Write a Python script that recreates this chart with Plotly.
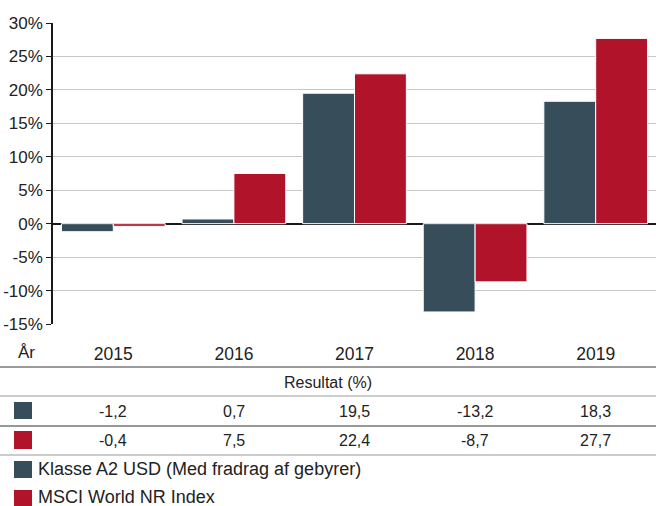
import plotly.graph_objects as go

years = ["2015", "2016", "2017", "2018", "2019"]
fund = [-1.2, 0.7, 19.5, -13.2, 18.3]
index = [-0.4, 7.5, 22.4, -8.7, 27.7]
series_names = ["Klasse A2 USD (Med fradrag af gebyrer)", "MSCI World NR Index"]
fund_labels = ["-1,2", "0,7", "19,5", "-13,2", "18,3"]
index_labels = ["-0,4", "7,5", "22,4", "-8,7", "27,7"]
y_ticks = [-15, -10, -5, 0, 5, 10, 15, 20, 25, 30]
table_title = "Resultat (%)"
x_axis_title = "År"

DARK = "#374e5a"
RED = "#b0132a"
TXT = "#222222"
FONT = "Liberation Sans, Arial, sans-serif"

W, H = 656, 506
ML, MR, MT, MB = 53, 0, 23, 182
PH = H - MT - MB
PW = W - ML - MR


def py(px):
    return (H - MB - px) / PH


def pxx(px):
    return (px - ML) / PW


fig = go.Figure()
for vals, col, name in [(fund, DARK, series_names[0]), (index, RED, series_names[1])]:
    fig.add_trace(go.Bar(x=years, y=vals, name=name, marker=dict(color=col, line=dict(color="white", width=1)),
                         showlegend=False))

shapes = []
annotations = []

# table lines
for ypx, col, w in [(367, "#7a7a7a", 1.6), (396, "#9a9a9a", 1.2), (426, "#333333", 1.2), (455, "#9a9a9a", 1.2)]:
    shapes.append(dict(type="line", xref="paper", yref="paper", x0=pxx(0), x1=pxx(W), y0=py(ypx), y1=py(ypx),
                       line=dict(color=col, width=w)))

annotations.append(dict(text=table_title, xref="paper", yref="paper", x=pxx(328), y=py(382), showarrow=False,
                        xanchor="center", yanchor="middle", font=dict(size=16, color=TXT, family=FONT)))
annotations.append(dict(text=x_axis_title, xref="paper", yref="paper", x=pxx(26), y=py(352), showarrow=False,
                        xanchor="center", yanchor="middle", font=dict(size=17, color=TXT, family=FONT)))

rows = [(fund_labels, DARK, 402, 419, 411), (index_labels, RED, 431, 449, 440)]
for labels, col, y0, y1, yc in rows:
    shapes.append(dict(type="rect", xref="paper", yref="paper", x0=pxx(14), x1=pxx(32), y0=py(y1), y1=py(y0),
                       fillcolor=col, line=dict(width=0)))
    for i, lab in enumerate(labels):
        annotations.append(dict(text=lab, xref="x", yref="paper", x=i, y=py(yc), showarrow=False,
                                xanchor="center", yanchor="middle", font=dict(size=16, color=TXT, family=FONT)))

for name, col, y0, y1, yc in [(series_names[0], DARK, 461, 478, 469), (series_names[1], RED, 490, 506, 497)]:
    shapes.append(dict(type="rect", xref="paper", yref="paper", x0=pxx(14), x1=pxx(32), y0=py(y1), y1=py(y0),
                       fillcolor=col, line=dict(width=0)))
    annotations.append(dict(text=name, xref="paper", yref="paper", x=pxx(36), y=py(yc), showarrow=False,
                            xanchor="left", yanchor="middle", font=dict(size=18, color=TXT, family=FONT)))

fig.update_layout(
    width=W, height=H,
    margin=dict(l=ML, r=MR, t=MT, b=MB),
    paper_bgcolor="white", plot_bgcolor="white",
    barmode="group", bargap=0.14, bargroupgap=0,
    font=dict(family=FONT, size=16, color=TXT),
    shapes=shapes, annotations=annotations,
    xaxis=dict(type="category", range=[-0.5, 4.5], showgrid=False, showline=False, ticks="",
               tickfont=dict(size=17.5, color=TXT), ticklabelstandoff=17),
    yaxis=dict(range=[-15, 30], tickvals=y_ticks, ticktext=[f"{v}%" for v in y_ticks],
               showgrid=True, gridcolor="#c8c8c8", gridwidth=1,
               zeroline=True, zerolinecolor="#1a1a1a", zerolinewidth=2,
               showline=True, linecolor="#1a1a1a", linewidth=1.5,
               ticks="outside", ticklen=5, tickcolor="#1a1a1a", tickwidth=1,
               tickfont=dict(size=17, color=TXT), ticklabelstandoff=0),
)

fig.write_html("out.html", config={"displayModeBar": False},
               post_script="document.body.style.margin='0';document.body.style.overflow='hidden';")
